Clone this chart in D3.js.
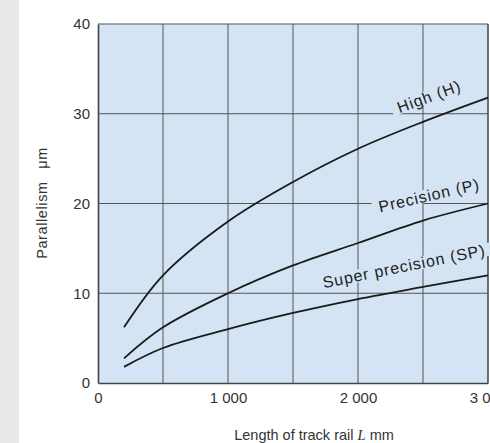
<!DOCTYPE html>
<html>
<head>
<meta charset="utf-8">
<script src="https://cdn.jsdelivr.net/npm/d3@7"></script>
<style>
  html, body { margin: 0; padding: 0; background: #fff; }
  svg { display: block; font-family: "Liberation Sans", Arial, sans-serif; }
</style>
</head>
<body>
<div id="chart"></div>
<script>
// --- data ---
const lengthMm = [200, 500, 1000, 1500, 2000, 2500, 3000];
const high = [6.2, 12.0, 18.0, 22.4, 26.1, 29.1, 31.8];
const precision = [2.75, 6.2, 10.0, 13.1, 15.6, 18.1, 20.0];
const superPrecision = [1.8, 3.9, 6.0, 7.8, 9.35, 10.7, 12.0];

const xTicks = [0, 1000, 2000, 3000];
const xTickLabels = ["0", "1 000", "2 000", "3 000"];
const yTicks = [0, 10, 20, 30, 40];
const xGrid = [500, 1000, 1500, 2000, 2500];
const yGrid = [10, 20, 30];

const seriesNames = ["High (H)", "Precision (P)", "Super precision (SP)"];
// label anchor in data units, plus rotation
const labelX = [2546, 2546, 2354];
const labelY = [31.9, 20.9, 13.0];
const labelAngle = [-20, -13, -11.5];

const W = 490, H = 443;
const svg = d3.select("#chart").append("svg").attr("width", W).attr("height", H);

// grey strip at the left edge
svg.append("rect").attr("x", 0).attr("y", 0).attr("width", 19).attr("height", H).attr("fill", "#e8e9eb");

const x = d3.scaleLinear().domain([0, 3000]).range([98, 488]);
const y = d3.scaleLinear().domain([0, 40]).range([383, 24]);

const plotFill = "#d4e4f4";
svg.append("rect")
  .attr("x", x(0)).attr("y", y(40))
  .attr("width", x(3000) - x(0)).attr("height", y(0) - y(40))
  .attr("fill", plotFill);

// grid
svg.append("g").selectAll("line").data(xGrid).join("line")
  .attr("x1", d => x(d)).attr("x2", d => x(d))
  .attr("y1", y(0)).attr("y2", y(40))
  .attr("stroke", "#555").attr("stroke-width", 1);
svg.append("g").selectAll("line").data(yGrid).join("line")
  .attr("x1", x(0)).attr("x2", x(3000))
  .attr("y1", d => y(d)).attr("y2", d => y(d))
  .attr("stroke", "#555").attr("stroke-width", 1);

// frame
svg.append("line").attr("x1", x(0)).attr("x2", x(3000)).attr("y1", y(40)).attr("y2", y(40))
  .attr("stroke", "#555").attr("stroke-width", 1.2);
svg.append("line").attr("x1", x(3000)).attr("x2", x(3000)).attr("y1", y(40)).attr("y2", y(0))
  .attr("stroke", "#444").attr("stroke-width", 1.5);

const labelStyle = sel => sel
  .attr("font-size", 16).attr("letter-spacing", 0.9)
  .attr("fill", "#222").attr("text-anchor", "middle")
  .attr("dominant-baseline", "central");

// label backgrounds break the grid lines
const labelG = svg.append("g");
const bgG = labelG.append("g");
const labels = labelG.append("g").selectAll("text").data(seriesNames).join("text")
  .attr("transform", (d, i) => `translate(${x(labelX[i])},${y(labelY[i])}) rotate(${labelAngle[i]})`)
  .call(labelStyle)
  .text(d => d);
labels.each(function (d, i) {
  const b = this.getBBox();
  bgG.append("rect")
    .attr("transform", `translate(${x(labelX[i])},${y(labelY[i])}) rotate(${labelAngle[i]})`)
    .attr("x", b.x - 6).attr("y", b.y + 2)
    .attr("width", b.width + 12).attr("height", b.height - 4)
    .attr("fill", plotFill);
});

// curves
const series = [high, precision, superPrecision];
const line = d3.line()
  .x((d, i) => x(lengthMm[i]))
  .y(d => y(d))
  .curve(d3.curveCatmullRom.alpha(0.5));
svg.append("g").selectAll("path").data(series).join("path")
  .attr("d", line)
  .attr("fill", "none").attr("stroke", "#1a1a1a").attr("stroke-width", 1.8);

labelG.raise();

// axes
const xAxis = svg.append("g").attr("transform", `translate(0,${y(0)})`)
  .call(d3.axisBottom(x).tickValues(xTicks).tickSize(0).tickPadding(9)
    .tickFormat((d, i) => xTickLabels[i]));
const yAxis = svg.append("g").attr("transform", `translate(${x(0)},0)`)
  .call(d3.axisLeft(y).tickValues(yTicks).tickSize(0).tickPadding(8));
[xAxis, yAxis].forEach(a => {
  a.select(".domain").attr("stroke", "#444").attr("stroke-width", 1.6);
  a.selectAll("text").attr("font-size", 15).attr("fill", "#333")
    .attr("font-family", "Liberation Sans, Arial, sans-serif");
});

// axis titles
svg.append("text")
  .attr("x", 314).attr("y", 440)
  .attr("text-anchor", "middle").attr("font-size", 14.5).attr("fill", "#333")
  .call(t => {
    t.append("tspan").text("Length of track rail ");
    t.append("tspan").attr("font-style", "italic").attr("font-family", "Liberation Serif, serif").text("L");
    t.append("tspan").text(" mm");
  });
svg.append("text")
  .attr("transform", "translate(47,203) rotate(-90)")
  .attr("text-anchor", "middle").attr("font-size", 14.5).attr("fill", "#333")
  .attr("letter-spacing", 0.6)
  .text("Parallelism\u2002\u00a0μm");
</script>
</body>
</html>
